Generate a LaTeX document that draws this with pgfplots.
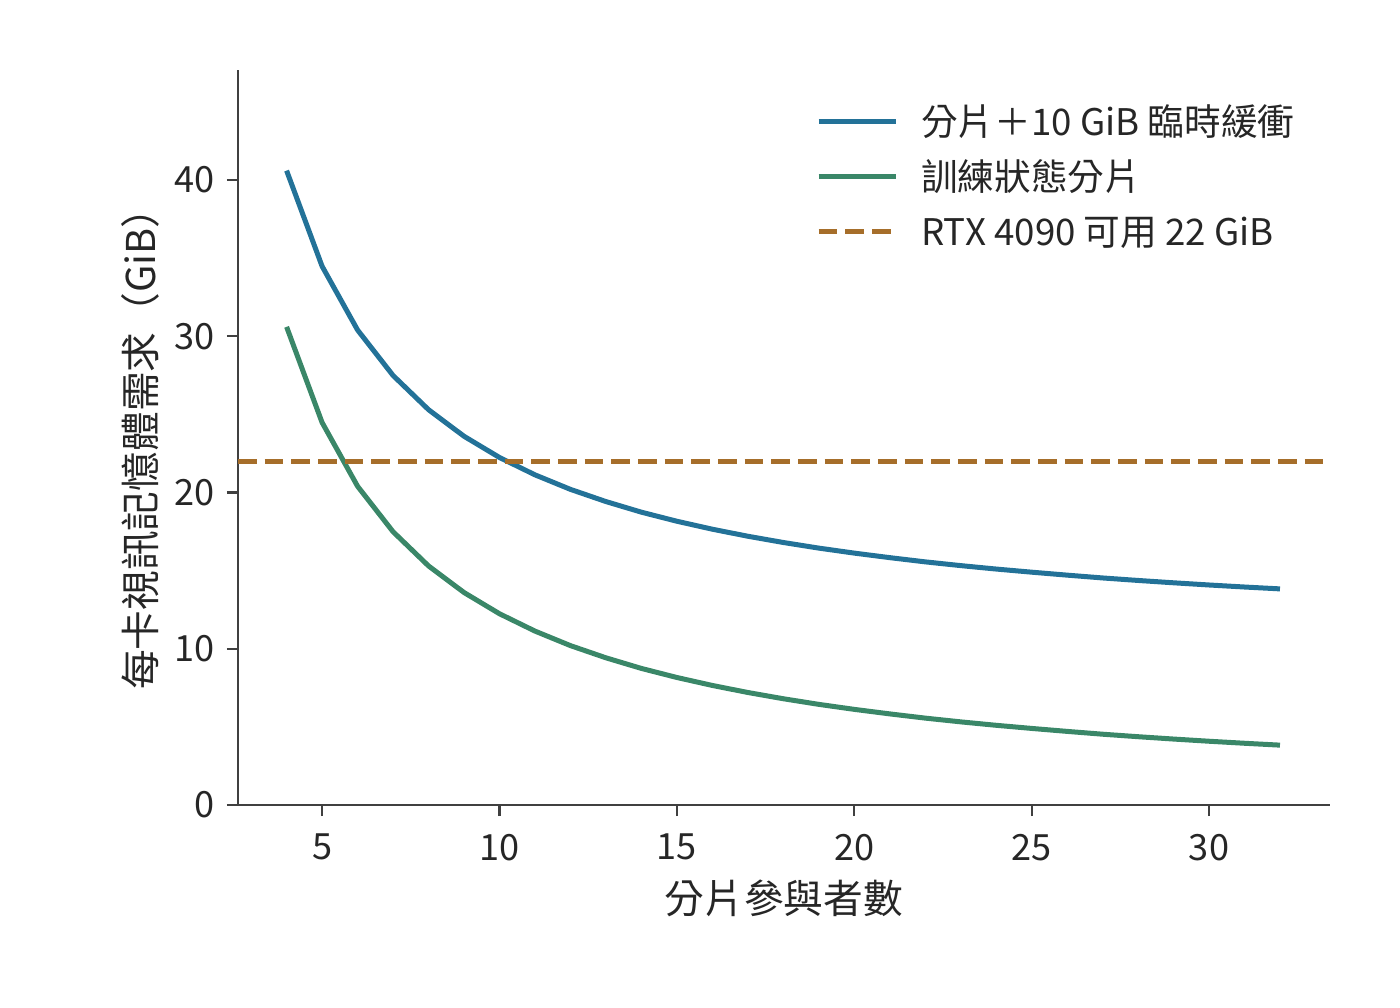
\documentclass[border=0pt]{standalone}
\usepackage{fontspec}
\setmainfont{Noto Sans CJK TC}
\usepackage{pgfplots}
\usepackage{pgfplotstable}
\pgfplotsset{compat=1.18}
\definecolor{cblue}{RGB}{35,114,152}
\definecolor{cgreen}{RGB}{58,135,104}
\definecolor{corange}{RGB}{166,110,42}
\definecolor{axgray}{RGB}{64,64,64}
\definecolor{txtgray}{RGB}{38,38,38}
\pgfplotstableread{
n train total
4 30.60 40.60
5 24.48 34.48
6 20.40 30.40
7 17.49 27.49
8 15.30 25.30
9 13.60 23.60
10 12.24 22.24
11 11.13 21.13
12 10.20 20.20
13 9.42 19.42
14 8.74 18.74
15 8.16 18.16
16 7.65 17.65
17 7.20 17.20
18 6.80 16.80
19 6.44 16.44
20 6.12 16.12
21 5.83 15.83
22 5.56 15.56
23 5.32 15.32
24 5.10 15.10
25 4.90 14.90
26 4.71 14.71
27 4.53 14.53
28 4.37 14.37
29 4.22 14.22
30 4.08 14.08
31 3.95 13.95
32 3.83 13.83
}\datatable
\pgfplotstableread{
x y
2.63 22
33.41 22
}\limittable
\begin{document}
\begin{tikzpicture}
\useasboundingbox (-85.68pt,-73.08pt) rectangle (418.32pt,289.8pt);
\begin{axis}[
  at={(0,0)}, anchor=south west,
  scale only axis, width=393.12pt, height=264.6pt,
  xmin=2.63, xmax=33.41, ymin=0, ymax=47.04,
  axis x line*=bottom, axis y line*=left,
  axis line style={line width=0.8pt, color=axgray},
  xtick={5,10,15,20,25,30}, ytick={0,10,20,30,40},
  tick align=outside, major tick length=4pt,
  tick style={line width=0.8pt, color=axgray},
  /pgf/number format/assume math mode=true,
  ticklabel style={font=\fontsize{13}{15.6}\selectfont, text=txtgray},
  xticklabel style={yshift=-3pt},
  yticklabel style={xshift=-1pt},
  xlabel={分片參與者數},
  ylabel={每卡視訊記憶體需求（GiB）},
  label style={font=\fontsize{14.3}{17}\selectfont, text=txtgray},
  xlabel style={at={(axis description cs:0.5,0)}, anchor=center, yshift=-33.5pt},
  ylabel style={at={(axis description cs:-0.0898,0.4975)}, anchor=center},
  legend style={at={(axis description cs:0.529,0.947)}, anchor=north west,
    draw=none, fill=none, inner sep=0pt, row sep=7.3pt,
    font=\fontsize{13.2}{15.8}\selectfont, text=txtgray,
    nodes={inner sep=0pt, text height=9.5pt, text depth=3pt},
    /tikz/every odd column/.append style={column sep=8.3pt}},
  legend cell align=left,
  legend image code/.code={\draw[#1] (0pt,1.8pt) -- (27.7pt,1.8pt);},
]
\addplot[cblue, line width=1.8pt, line join=round] table[x=n, y=total] {\datatable};
\addlegendentry{分片＋10 GiB 臨時緩衝}
\addplot[cgreen, line width=1.8pt, line join=round] table[x=n, y=train] {\datatable};
\addlegendentry{訓練狀態分片}
\addplot[corange, line width=1.8pt, dash pattern=on 6.7pt off 2.9pt] table[x=x, y=y] {\limittable};
\addlegendentry{RTX 4090 可用 22 GiB}
\end{axis}
\end{tikzpicture}
\end{document}
